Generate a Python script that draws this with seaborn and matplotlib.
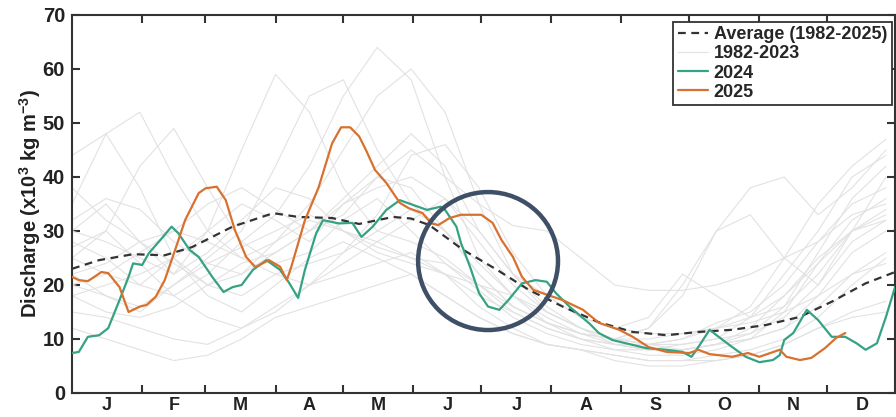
import numpy as np
import pandas as pd
import matplotlib
matplotlib.use("Agg")
import matplotlib.pyplot as plt
from matplotlib.patches import Ellipse
import seaborn as sns

# ---- data (day of year, discharge x10^3) ----
MONTHS = ['J', 'F', 'M', 'A', 'M', 'J', 'J', 'A', 'S', 'O', 'N', 'D']
MONTH_STARTS = [0, 31, 59, 90, 120, 151, 181, 212, 243, 273, 304, 334, 365]

avg_days = [0, 12, 27, 41, 53, 71, 89, 100, 115, 127, 142, 150, 158, 173, 188,
            202, 217, 233, 248, 263, 277, 292, 307, 322, 336, 351, 364]
avg_vals = [23.0, 24.6, 25.7, 25.5, 27.0, 30.8, 33.3, 32.6, 32.4, 31.3, 32.6, 32.3,
            31.1, 26.5, 22.8, 19.1, 16.0, 13.1, 11.3, 10.7, 11.3, 11.7, 12.6, 14.1,
            16.9, 20.3, 22.4]

y2024_days = [0, 3, 7, 12, 16, 21, 25, 27, 31, 34, 39, 44, 47, 52, 56, 62, 67, 71,
              75, 80, 86, 92, 96, 100, 103, 108, 111, 118, 124, 128, 133, 139, 145,
              151, 157, 163, 165, 170, 172, 176, 180, 184, 189, 193, 199, 205, 210,
              214, 220, 229, 233, 239, 248, 254, 263, 270, 274, 277, 282, 286, 292,
              298, 304, 310, 313, 315, 319, 325, 330, 336, 342, 347, 351, 356, 360, 364]
y2024_vals = [7.4, 7.6, 10.4, 10.7, 12.0, 17.2, 21.5, 24.0, 23.7, 25.9, 28.3, 30.8,
              29.6, 26.5, 25.2, 21.5, 18.7, 19.6, 20.0, 22.8, 24.6, 22.8, 20.4, 17.6,
              22.8, 29.6, 32.0, 31.4, 31.5, 28.9, 30.8, 33.9, 35.7, 34.8, 33.9, 34.5,
              33.9, 30.8, 27.8, 23.4, 18.5, 16.0, 15.4, 17.2, 20.3, 20.9, 20.6, 18.5,
              16.0, 12.8, 11.1, 9.8, 8.9, 8.3, 8.0, 7.6, 6.7, 8.5, 11.7, 10.4, 8.5,
              6.7, 5.7, 6.1, 7.0, 9.8, 11.1, 15.4, 13.5, 10.4, 10.4, 9.2, 8.0, 9.2,
              14.1, 19.6]

y2025_days = [0, 3, 7, 13, 16, 21, 25, 30, 33, 37, 41, 46, 50, 56, 59, 64, 68, 72,
              77, 81, 87, 92, 95, 97, 103, 109, 115, 119, 123, 127, 130, 134, 139,
              145, 149, 155, 159, 162, 167, 172, 181, 186, 190, 195, 199, 204, 208,
              217, 226, 233, 242, 248, 255, 263, 273, 277, 282, 292, 299, 304, 313,
              316, 322, 327, 333, 338, 342]
y2025_vals = [21.5, 20.9, 20.7, 22.4, 22.2, 19.6, 15.0, 16.0, 16.3, 17.8, 20.9, 27.0,
              32.0, 37.0, 37.9, 38.2, 35.7, 30.2, 25.2, 23.3, 24.6, 23.4, 20.9, 23.4,
              32.0, 38.0, 46.2, 49.2, 49.2, 47.5, 45.0, 41.3, 38.9, 35.2, 34.2, 33.3,
              31.4, 31.1, 32.4, 33.0, 33.0, 31.5, 28.3, 25.2, 21.5, 19.1, 18.5, 17.2,
              15.4, 13.0, 11.7, 10.4, 8.5, 7.6, 7.4, 8.0, 7.2, 6.7, 7.4, 6.7, 8.0,
              6.7, 6.1, 6.5, 8.3, 10.2, 11.1]

# earlier years (1982-2023), sampled every 15 days
gray_days = [0, 15, 30, 45, 60, 75, 90, 105, 120, 135, 150, 165, 180, 195, 210,
             225, 240, 255, 270, 285, 300, 315, 330, 345, 360]
g01 = [28, 25, 20, 18, 22, 28, 33, 42, 55, 64, 58, 40, 25, 18, 14, 11, 9, 8, 8, 9, 12, 18, 25, 30, 33]
g02 = [30, 35, 28, 22, 30, 45, 59, 52, 38, 30, 28, 25, 20, 15, 12, 10, 9, 9, 10, 13, 15, 20, 28, 35, 38]
g03 = [22, 18, 15, 20, 25, 30, 42, 55, 58, 45, 35, 30, 22, 16, 13, 11, 10, 9, 9, 10, 14, 22, 30, 40, 44]
g04 = [18, 20, 22, 25, 20, 22, 28, 35, 45, 55, 60, 52, 35, 22, 15, 12, 10, 9, 8, 9, 10, 12, 16, 22, 26]
g05 = [35, 48, 52, 40, 30, 25, 28, 32, 30, 28, 25, 22, 18, 15, 12, 10, 9, 8, 9, 10, 11, 14, 20, 28, 32]
g06 = [25, 30, 42, 49, 38, 28, 24, 26, 32, 36, 30, 24, 19, 14, 11, 9, 8, 7, 7, 8, 10, 15, 24, 32, 36]
g07 = [44, 48, 38, 25, 18, 15, 20, 25, 28, 25, 22, 18, 14, 11, 9, 8, 7, 6, 6, 7, 8, 10, 14, 20, 25]
g08 = [12, 10, 8, 6, 7, 10, 14, 16, 18, 20, 22, 18, 14, 11, 9, 8, 7, 6, 6, 6, 7, 9, 12, 15, 17]
g09 = [20, 22, 26, 30, 35, 38, 34, 30, 33, 40, 45, 40, 35, 31, 30, 25, 20, 19, 19, 20, 22, 25, 28, 33, 35]
g10 = [30, 28, 25, 22, 26, 32, 38, 36, 30, 26, 24, 22, 20, 18, 15, 12, 10, 12, 18, 30, 38, 40, 33, 38, 45]
g11 = [25, 22, 20, 25, 30, 35, 32, 28, 35, 40, 38, 30, 22, 16, 13, 11, 10, 12, 20, 30, 33, 25, 20, 30, 40]
g12 = [15, 14, 12, 10, 9, 12, 16, 20, 22, 24, 26, 22, 16, 12, 9, 8, 6, 5, 5, 6, 7, 9, 12, 14, 15]
g13 = [32, 36, 34, 28, 24, 22, 26, 30, 35, 38, 40, 36, 28, 20, 15, 12, 10, 9, 10, 12, 14, 18, 24, 30, 34]
g14 = [20, 18, 16, 20, 24, 27, 30, 33, 30, 27, 25, 24, 20, 16, 13, 11, 10, 10, 11, 12, 16, 25, 35, 42, 47]
g15 = [38, 32, 28, 24, 20, 18, 22, 24, 26, 30, 34, 30, 24, 18, 13, 10, 8, 8, 8, 9, 11, 16, 26, 36, 42]
g16 = [22, 24, 28, 30, 28, 25, 22, 20, 24, 28, 32, 36, 30, 22, 16, 12, 9, 8, 8, 9, 10, 12, 18, 26, 30]
g17 = [27, 30, 24, 18, 14, 12, 15, 20, 26, 33, 44, 46, 38, 26, 18, 14, 12, 14, 22, 18, 14, 16, 22, 30, 32]
g18 = [18, 15, 14, 16, 20, 24, 26, 30, 36, 42, 48, 42, 30, 22, 18, 14, 12, 11, 11, 12, 13, 15, 18, 22, 24]
gray_years = [g01, g02, g03, g04, g05, g06, g07, g08, g09, g10, g11, g12, g13, g14, g15, g16, g17, g18]

GREEN = '#35a283'
ORANGE = '#d8702e'
LIGHT = '#e2e2e2'
CIRCLE = '#3e4f66'

sns.set_theme(style="white")
plt.rcParams['font.family'] = ['Liberation Sans', 'DejaVu Sans']
plt.rcParams['font.weight'] = 'bold'
plt.rcParams['axes.labelweight'] = 'bold'
plt.rcParams['mathtext.fontset'] = 'custom'
plt.rcParams['mathtext.rm'] = 'Liberation Sans:bold'
plt.rcParams['mathtext.bf'] = 'Liberation Sans:bold'
plt.rcParams['mathtext.default'] = 'bf'

gray_df = pd.DataFrame({
    'day': gray_days * len(gray_years),
    'value': [v for g in gray_years for v in g],
    'year': [i for i, g in enumerate(gray_years) for _ in g],
})

fig = plt.figure(figsize=(8.96, 4.17), dpi=100)
ax = fig.add_axes([0.0804, 0.0576, 0.9185, 0.9065])

sns.lineplot(data=gray_df, x='day', y='value', units='year', estimator=None,
             color=LIGHT, lw=0.8, ax=ax, label='1982-2023', zorder=1)
sns.lineplot(x=avg_days, y=avg_vals, color='#333333', lw=1.6, ax=ax,
             zorder=3, label='Average (1982-2025)')
ax.lines[-1].set_linestyle((0, (3.5, 2.5)))
sns.lineplot(x=y2024_days, y=y2024_vals, color=GREEN, lw=1.6, ax=ax, label='2024', zorder=4)
sns.lineplot(x=y2025_days, y=y2025_vals, color=ORANGE, lw=1.6, ax=ax, label='2025', zorder=5)

# circle highlighting June-July
ax.add_patch(Ellipse((0.5055, 0.349), 0.170, 0.365, transform=ax.transAxes,
                     fill=False, ec=CIRCLE, lw=3.2, zorder=6))

ax.set_xlim(0, 364)
ax.set_ylim(0, 70)
ax.set_xticks(MONTH_STARTS[1:-1])
ax.set_xticklabels([])
mids = [(a + b) / 2 for a, b in zip(MONTH_STARTS[:-1], MONTH_STARTS[1:])]
ax.set_xticks(mids, minor=True)
ax.set_xticklabels(MONTHS, minor=True, fontsize=13, fontweight='bold')
ax.tick_params(axis='x', which='minor', length=0, pad=3, colors='#222222')
ax.tick_params(axis='x', which='major', direction='in', length=6, width=1.5,
               top=True, bottom=True, color='#333333')
ax.set_yticks(range(0, 71, 10))
ax.tick_params(axis='y', direction='in', length=6, width=1.5, left=True, right=True,
               labelsize=14.5, pad=5, color='#333333', labelcolor='#222222')
for lab in ax.get_yticklabels():
    lab.set_fontweight('bold')

for s in ax.spines.values():
    s.set_color('#333333')
    s.set_linewidth(1.5)

ax.set_xlabel('')
ax.set_ylabel('Discharge (x10$^{3}$ kg m$^{-3}$)', fontsize=14.5,
              fontweight='bold', color='#222222', labelpad=0)

h, l = ax.get_legend_handles_labels()
order = [l.index(n) for n in ['Average (1982-2025)', '1982-2023', '2024', '2025']]
leg = ax.legend([h[i] for i in order], [l[i] for i in order], loc='upper right',
                bbox_to_anchor=(0.996, 0.982), fancybox=False, framealpha=1,
                edgecolor='#333333', fontsize=13, handlelength=1.7, handletextpad=0.3,
                labelspacing=0.12, borderpad=0.25, borderaxespad=0)
leg.get_frame().set_linewidth(1.3)
for t in leg.get_texts():
    t.set_fontweight('bold')

fig.savefig('out.png', dpi=100)
